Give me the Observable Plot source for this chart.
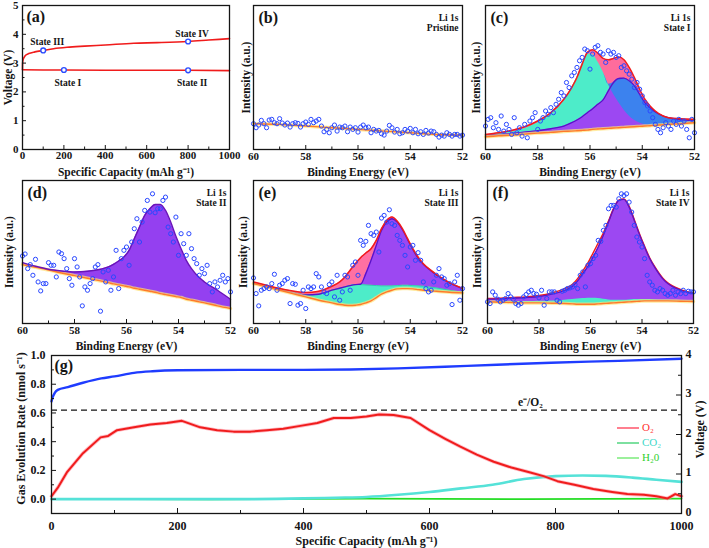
<!DOCTYPE html>
<html><head><meta charset="utf-8">
<script src="https://cdn.jsdelivr.net/npm/d3@7"></script>
<script src="https://cdn.jsdelivr.net/npm/@observablehq/plot@0.6"></script>
<style>
body{margin:0;background:#fff}
#fig{position:relative;width:709px;height:548px;overflow:hidden;background:#fff;font-family:'Liberation Serif','Times New Roman',serif}
.leg{position:absolute;left:617px;top:420px;font-size:11px;line-height:15px}
.leg div{height:15px;white-space:nowrap}
.leg i{display:inline-block;width:22px;height:2px;vertical-align:middle;margin-right:3px}
</style></head><body><div id="fig"></div>
<script>
// ---------- (a) voltage profile ----------
const capDis = [0, 100, 200, 400, 600, 800, 1000];
const vDis = [2.77, 2.76, 2.76, 2.75, 2.75, 2.75, 2.74];
const capChg = [0, 0.5, 3, 8, 15, 30, 60, 100, 150, 215, 300, 400, 537, 650, 800, 900, 1000];
const vChg = [2.77, 3.0, 3.12, 3.2, 3.27, 3.33, 3.39, 3.44, 3.5, 3.55, 3.59, 3.63, 3.69, 3.71, 3.75, 3.8, 3.85];
const stateNames = ["State I", "State II", "State III", "State IV"];
const stateCap = [200, 800, 100, 800];
const stateV = [2.76, 2.75, 3.44, 3.75];
const capTicksA = [0, 200, 400, 600, 800, 1000];
const voltTicksA = [0, 1, 2, 3, 4, 5];

// ---------- XPS Li 1s ----------
const beTicks = [60, 58, 56, 54, 52];
const beMinor = [59, 57, 55, 53];
const ptE = d3.range(81).map(i => +(60 - i * 0.1).toFixed(1));
const bPts = [77,65,73,87,77,65,88,90,80,77, 92,79,73,79,67,77,80,78,67,77, 82,75,90,80,85,90,70,53,60,50, 65,73,55,67,65,70,53,67,60,65, 52,67,73,65,67,50,60,55,57,47, 43,55,72,65,52,60,47,50,60,55, 63,50,60,47,53,45,57,49,55,53, 45,37,43,40,50,45,40,45,45,40, 43];
const cPts = [70,90,95,65,80,60,100,55,75,60, 45,95,50,65,40,75,35,85,95,110, 60,85,95,115,105,125,110,135,150,170, 160,200,185,220,230,245,265,275,300,295, 240,285,305,310,290,285,260,295,285,290, 275,280,245,250,235,225,210,185,200,180, 160,140,130,115,95,75,60,50,65,80, 70,60,85,75,90,70,85,60,35,90, 50];
const dPts = [203,209,165,177,145,193,125,98,120,120, 183,175,175,140,215,210,195,165,135,115, 195,170,140,53,110,100,120,135,170,177, 37,155,125,160,100,140,220,105,195,220, 230,175,245,285,315,245,305,340,370,335, 390,333,345,345,370,380,290,270,245,320, 205,270,240,205,270,225,195,180,145,165, 150,175,120,95,125,110,130,145,125,135, 95];
const ePts = [137,90,53,100,105,110,105,120,148,100, 115,120,130,135,60,120,118,55,60,100, 45,110,105,110,150,140,110,95,90,117, 125,80,145,70,95,145,140,100,175,185, 145,250,235,247,295,270,265,275,215,317, 325,305,342,300,295,265,250,235,205,170, 230,235,190,213,190,125,105,95,100,125, 145,165,140,135,115,120,57,125,145,70, 105];
const fPts = [65,60,95,85,73,65,70,75,90,80, 73,60,55,60,80,87,95,100,90,88, 77,100,55,75,95,95,95,70,65,97, 100,105,107,110,117,105,145,155,110,175, 180,195,205,250,247,280,295,345,355,355, 350,375,390,385,390,365,335,295,260,245, 230,195,145,125,115,100,95,105,100,90, 85,90,100,85,95,90,100,90,97,95, 95];

const bFitE = [60, 59, 58, 57, 56, 55, 54, 53, 52];
const bFit = [77, 75, 70, 65, 60, 55, 50, 45, 43];

const fitE = [60, 59.5, 59, 58.5, 58, 57.5, 57, 56.7, 56.5, 56.3, 56.1, 55.9, 55.7, 55.5, 55.3, 55.1, 54.9, 54.7, 54.5, 54.3, 54.1, 53.9, 53.7, 53.5, 53.2, 53, 52.5, 52];
const cBg = [38,41,43,46,49,51,54,55,56,57, 58,60,61,62,63,64,65,66,67,68, 69,70,71,72,74,75,77,80];
const cCyan = [42,47,52,62,80,105,145,185,215,255, 285,283,262,232,195,165,140,118,100,87, 79,74,73,73,74,75,77,80];
const cPurple = [42,45,48,52,56,62,70,80,88,98, 110,122,135,148,175,200,212,213,205,190, 165,140,125,112,100,95,89,85];
const cEnv = [45,50,57,68,85,110,150,185,215,255, 290,298,288,272,268,272,276,268,245,215, 180,150,130,115,100,95,92,90];
const dBg = [177,169,161,152,144,136,128,123,119,116, 113,110,106,103,100,97,94,90,87,84, 81,78,73,70,65,62,53,45];
const dPurple = [183,172,163,158,155,157,163,170,178,188, 200,220,255,290,325,345,358,358,340,305, 262,225,190,165,138,125,100,73];
const eBg = [120,110,100,90,80,70,62,57,55,54, 55,57,62,68,78,88,95,100,104,105, 105,104,102,100,98,97,94,92];
const eCyan = [121,112,102,93,86,88,100,106,110,114, 117,117,116,115,114,113,113,113,114,115, 115,114,113,112,109,107,100,94];
const ePurple = [121,112,102,93,86,88,100,106,110,114, 117,118,150,190,235,280,305,315,305,282, 252,222,196,178,158,146,122,105];
const eEnv = [125,115,105,98,93,97,112,125,140,160, 180,198,212,225,250,285,310,320,308,285, 255,225,200,180,160,148,123,106];
const fBg = [65,64,63,62,62,61,60,59,58,58, 58,58,59,60,61,62,63,64,65,66, 67,68,68,68,68,68,67,66];
const fCyan = [66,66,66,66,67,68,70,72,74,75, 76,76,75,73,71,70,70,70,71,72, 72,72,72,71,70,70,68,67];
const fPurple = [73,74,76,78,81,88,100,112,128,150, 172,200,230,265,305,345,370,373,350,310, 268,230,195,168,135,120,100,90];
const fEnv = [75,76,78,80,84,92,105,118,135,158, 182,212,242,272,308,346,371,374,352,312, 270,232,197,170,137,122,102,92];

// ---------- (g) DEMS ----------
const capO2 = [0,10,25,50,78,90,104,131,157,183, 207,236,263,289,316,342,368,395,422,448, 475,500,520,543,570,600,625,649,675,702, 730,760,781,803,830,860,890,914,940,960, 978,990,1000];
const o2Rate = [0.02,0.08,0.19,0.32,0.43,0.44,0.48,0.5,0.52,0.53, 0.545,0.5,0.48,0.47,0.47,0.48,0.49,0.51,0.53,0.565, 0.565,0.575,0.59,0.585,0.565,0.48,0.42,0.365,0.31,0.26, 0.22,0.185,0.16,0.125,0.1,0.07,0.05,0.035,0.03,0.02, 0.005,0.035,0.02];
const capCO2 = [0,300,400,450,500,550,600,650,700,750,800,843,880,922,960,1000];
const co2Rate = [0,0,0.005,0.01,0.015,0.03,0.05,0.075,0.1,0.14,0.16,0.165,0.162,0.15,0.135,0.12];
const capH2O = [0,250,500,750,1000];
const h2oRate = [0.002,-0.002,0.003,0.0,0.004];
const capV = [0,2,5,10,26,50,79,100,131,160,200,300,400,475,550,660,793,900,1000];
const voltG = [2.84,2.95,3.05,3.13,3.2,3.31,3.42,3.47,3.56,3.6,3.625,3.636,3.636,3.647,3.673,3.738,3.818,3.865,3.916];
const eO2Ratio = 0.62;
const rateTicks = [0, 0.2, 0.4, 0.6, 0.8, 1.0];
const rateMinor = [-0.1, 0.1, 0.3, 0.5, 0.7, 0.9];
const voltTicksG = [0, 1, 2, 3, 4];
const voltMinorG = [0.5, 1.5, 2.5, 3.5];
const capTicksG = [0, 200, 400, 600, 800, 1000];
const capMinorG = [100, 300, 500, 700, 900];
const legendNames = ["O\u2082", "CO\u2082", "H\u20820"];
const legendLine = ["#ff7f8f", "#7de0a0", "#9cf09c"];
const legendText = ["#ff3030", "#3fd8c8", "#2ed02e"];

// ---------- helpers ----------
const FONT = "'Liberation Serif','Times New Roman',serif";
const INK = "#151515";
const RED = "#f01c1c", BLUE = "#1f3cff", PT = "#2a48ff";
const fig = document.getElementById("fig");
function tbl(xs, cols) { return xs.map((x, i) => { const o = {x}; for (const k in cols) o[k] = cols[k][i]; return o; }); }
function place(svg, left, top) {
  svg.style.position = "absolute"; svg.style.left = left + "px"; svg.style.top = top + "px";
  svg.style.background = "transparent"; svg.style.overflow = "visible"; svg.style.maxWidth = "none";
  fig.appendChild(svg);
}
function baseStyle(fs) { return {fontFamily: FONT, fontWeight: "bold", fontSize: fs + "px", color: INK, background: "transparent", overflow: "visible"}; }
function inTicksX(vals, ydom, hpx, len) {
  const k = (ydom[1] - ydom[0]) / hpx * len;
  return Plot.ruleX(vals, {x: d => d, y1: ydom[0], y2: ydom[0] + k, stroke: INK, strokeWidth: 1});
}
function inTicksY(vals, xFrom, xTo, wpx, len, y = d => d) {
  const k = (xTo - xFrom) / wpx * len;
  return Plot.ruleY(vals, {y, x1: xFrom, x2: xFrom + k, stroke: INK, strokeWidth: 1});
}
const T = (s, o) => Plot.text([s], {text: d => d, lineAnchor: "middle", ...o});

function bgLine(data, key) {
  return [
    Plot.line(data, {x: "x", y: key, stroke: "#ffe27a", strokeWidth: 3.5, strokeOpacity: 0.7, curve: "monotone-x"}),
    Plot.line(data, {x: "x", y: key, stroke: "#ff7a2a", strokeWidth: 1.4, curve: "monotone-x"})
  ];
}

function xps(o) {
  const H = 180, ydom = [0, 430];
  const hpx = H - o.mt - o.mb;
  const marks = [
    ...o.marks,
    Plot.dot(tbl(ptE, {v: o.pts}), {x: "x", y: "v", r: 2.1, stroke: PT, strokeWidth: 1, fill: "none"}),
    Plot.frame({stroke: INK, strokeWidth: 1.3}),
    inTicksX(beTicks, ydom, hpx, 4), inTicksX(beMinor, ydom, hpx, 2.5),
    Plot.axisX({ticks: beTicks, tickSize: 0, tickPadding: 3, tickFormat: d => String(d), label: null, fontSize: 11}),
    T("Binding Energy (eV)", {frameAnchor: "bottom", dy: 23, fontSize: 11.5}),
    T("Intensity (a.u.)", {frameAnchor: "left", dx: o.ytdx, rotate: -90, textAnchor: "middle", fontSize: 11.5}),
    T(o.letter, {frameAnchor: "top-left", dx: 5, dy: 12, textAnchor: "start", fontSize: 16}),
    T("Li 1s", {frameAnchor: "top-right", dx: -4, dy: 12, textAnchor: "end", fontSize: 9.5}),
    T(o.state, {frameAnchor: "top-right", dx: -4, dy: 22, textAnchor: "end", fontSize: 9.5})
  ];
  const svg = Plot.plot({width: o.width, height: H, marginLeft: o.ml, marginRight: o.mr, marginTop: o.mt, marginBottom: o.mb,
    x: {domain: [60, 52]}, y: {domain: ydom, axis: null}, style: baseStyle(11), marks});
  place(svg, o.left, o.top);
}

// ---------- (a) ----------
{
  const states = stateNames.map((name, i) => ({name, cap: stateCap[i], v: stateV[i]}));
  const svg = Plot.plot({width: 235, height: 180, marginLeft: 22, marginRight: 6, marginTop: 5, marginBottom: 31,
    x: {domain: [0, 1000]}, y: {domain: [0, 5]}, style: baseStyle(11),
    marks: [
      Plot.line(tbl(capDis, {v: vDis}), {x: "x", y: "v", stroke: RED, strokeWidth: 1.6}),
      Plot.line(tbl(capChg, {v: vChg}), {x: "x", y: "v", stroke: RED, strokeWidth: 1.6, curve: "monotone-x"}),
      Plot.dot(states, {x: "cap", y: "v", r: 2.4, stroke: "#2a4cff", fill: "white", strokeWidth: 1.4}),
      Plot.text(states.filter(d => d.v > 3), {x: "cap", y: "v", text: "name", dx: 4, dy: -8, fontSize: 9.5}),
      Plot.text(states.filter(d => d.v <= 3), {x: "cap", y: "v", text: "name", dx: 4, dy: 12.5, fontSize: 9.5}),
      Plot.frame({stroke: INK, strokeWidth: 1.3}),
      inTicksX(capTicksA, [0, 5], 144, 4), inTicksX([100, 300, 500, 700, 900], [0, 5], 144, 2.5),
      inTicksY(voltTicksA, 0, 1000, 207, 4), inTicksY([0.5, 1.5, 2.5, 3.5, 4.5], 0, 1000, 207, 2.5),
      Plot.axisX({ticks: capTicksA, tickSize: 0, tickPadding: 2, tickFormat: d => String(d), label: null}),
      Plot.axisY({ticks: voltTicksA, tickSize: 0, tickPadding: 4, tickFormat: d => String(d), label: null}),
      T("Specific Capacity (mAh g\u207B\u00B9)", {frameAnchor: "bottom", dy: 23, fontSize: 11.5}),
      T("Voltage (V)", {frameAnchor: "left", dx: -14.5, rotate: -90, textAnchor: "middle", fontSize: 11.5}),
      T("(a)", {frameAnchor: "top-left", dx: 4, dy: 11, textAnchor: "start", fontSize: 16})
    ]});
  place(svg, 0, 0);
}

// ---------- (b) ----------
xps({left: 232, top: 0, width: 235, ml: 21, mr: 5, mt: 5, mb: 31, ytdx: -7, letter: "(b)", state: "Pristine", pts: bPts,
  marks: [...bgLine(tbl(bFitE, {v: bFit}), "v")]});

// ---------- (c) ----------
{
  const F = tbl(fitE, {bg: cBg, cy: cCyan, pu: cPurple, env: cEnv});
  xps({left: 470, top: 0, width: 239, ml: 15, mr: 15, mt: 5, mb: 31, ytdx: -9, letter: "(c)", state: "State I", pts: cPts,
    marks: [
      Plot.areaY(F, {x: "x", y1: "bg", y2: "env", fill: "#ff6c9c", curve: "monotone-x"}),
      Plot.areaY(F, {x: "x", y1: "bg", y2: "cy", fill: "#4decc9", curve: "monotone-x"}),
      Plot.areaY(F, {x: "x", y1: "bg", y2: "pu", fill: "#9c48f2", curve: "monotone-x"}),
      Plot.areaY(F, {x: "x", y1: "cy", y2: d => Math.max(d.cy, d.pu), fill: "#3c82ee", curve: "monotone-x"}),
      Plot.line(F, {x: "x", y: "pu", stroke: "#5a12c8", strokeWidth: 1.3, curve: "monotone-x"}),
      ...bgLine(F, "bg"),
      Plot.line(F, {x: "x", y: "env", stroke: RED, strokeWidth: 1.5, curve: "monotone-x"})
    ]});
}

// ---------- (d) ----------
{
  const F = tbl(fitE, {bg: dBg, pu: dPurple});
  xps({left: 0, top: 175, width: 235, ml: 22, mr: 5, mt: 5, mb: 32, ytdx: -13, letter: "(d)", state: "State II", pts: dPts,
    marks: [
      Plot.areaY(F, {x: "x", y1: "bg", y2: "pu", fill: "#9440f0", curve: "monotone-x"}),
      ...bgLine(F, "bg"),
      Plot.line(F, {x: "x", y: "pu", stroke: "#6a14b8", strokeWidth: 1.4, curve: "monotone-x"})
    ]});
}

// ---------- (e) ----------
{
  const F = tbl(fitE, {bg: eBg, cy: eCyan, pu: ePurple, env: eEnv});
  xps({left: 232, top: 175, width: 235, ml: 21, mr: 5, mt: 5, mb: 32, ytdx: -10, letter: "(e)", state: "State III", pts: ePts,
    marks: [
      Plot.areaY(F, {x: "x", y1: "bg", y2: "env", fill: "#ff70a2", curve: "monotone-x"}),
      Plot.areaY(F, {x: "x", y1: "bg", y2: "cy", fill: "#4decc9", curve: "monotone-x"}),
      Plot.areaY(F, {x: "x", y1: "cy", y2: "pu", fill: "#9c48f2", curve: "monotone-x"}),
      Plot.line(F, {x: "x", y: "cy", stroke: "#35c8b0", strokeWidth: 1, curve: "monotone-x"}),
      Plot.line(F, {x: "x", y: "pu", stroke: "#5a12c8", strokeWidth: 1.3, curve: "monotone-x"}),
      ...bgLine(F, "bg"),
      Plot.line(F, {x: "x", y: "env", stroke: RED, strokeWidth: 1.5, curve: "monotone-x"})
    ]});
}

// ---------- (f) ----------
{
  const F = tbl(fitE, {bg: fBg, cy: fCyan, pu: fPurple, env: fEnv});
  xps({left: 470, top: 175, width: 239, ml: 17, mr: 16, mt: 5, mb: 32, ytdx: -10, letter: "(f)", state: "State IV", pts: fPts,
    marks: [
      Plot.areaY(F, {x: "x", y1: "bg", y2: "pu", fill: "#9c48f2", curve: "monotone-x"}),
      Plot.areaY(F, {x: "x", y1: "bg", y2: "cy", fill: "#4decc9", curve: "monotone-x"}),
      ...bgLine(F, "bg"),
      Plot.line(F, {x: "x", y: "env", stroke: RED, strokeWidth: 1.5, curve: "monotone-x"}),
      Plot.line(F, {x: "x", y: "pu", stroke: "#5a12c8", strokeWidth: 1.3, curve: "monotone-x"})
    ]});
}

// ---------- (g) ----------
{
  const vToRate = v => v * 1.1 / 4 - 0.1;
  const svg = Plot.plot({width: 709, height: 203, marginLeft: 51, marginRight: 28, marginTop: 10, marginBottom: 35,
    x: {domain: [0, 1000]}, y: {domain: [-0.1, 1.0]}, style: baseStyle(12),
    marks: [
      Plot.ruleY([eO2Ratio], {stroke: INK, strokeWidth: 1.3, strokeDasharray: "6,4"}),
      Plot.text(["e\u207B/O\u2082"], {text: d => d, x: 760, y: eO2Ratio, dy: -8, fontSize: 11.5}),
      Plot.line(tbl(capH2O, {v: h2oRate}), {x: "x", y: "v", stroke: "#25dd25", strokeWidth: 1.8}),
      Plot.line(tbl(capCO2, {v: co2Rate}), {x: "x", y: "v", stroke: "#55e2d8", strokeWidth: 2.6, curve: "monotone-x"}),
      Plot.line(tbl(capO2, {v: o2Rate}), {x: "x", y: "v", stroke: "#ff8a9a", strokeWidth: 3.6, strokeOpacity: 0.6}),
      Plot.line(tbl(capO2, {v: o2Rate}), {x: "x", y: "v", stroke: RED, strokeWidth: 2}),
      Plot.line(tbl(capV, {v: voltG}), {x: "x", y: d => vToRate(d.v), stroke: BLUE, strokeWidth: 2.4, curve: "monotone-x"}),
      Plot.frame({stroke: INK, strokeWidth: 1.3}),
      inTicksX(capTicksG, [-0.1, 1.0], 158, 5), inTicksX(capMinorG, [-0.1, 1.0], 158, 3),
      inTicksY(rateTicks, 0, 1000, 630, 5), inTicksY(rateMinor, 0, 1000, 630, 3),
      inTicksY(voltTicksG, 1000, 0, 630, 5, vToRate), inTicksY(voltMinorG, 1000, 0, 630, 3, vToRate),
      Plot.axisX({ticks: capTicksG, tickSize: 0, tickPadding: 8, tickFormat: d => String(d), label: null}),
      Plot.axisY({ticks: rateTicks, tickSize: 0, tickPadding: 6, tickFormat: d3.format(".1f"), label: null}),
      Plot.axisY(voltTicksG, {anchor: "right", y: vToRate, tickSize: 0, tickPadding: 4, dy: -1.5, tickFormat: d => String(d), label: null}),
      T("Specific Capacity (mAh g\u207B\u00B9)", {frameAnchor: "bottom", dy: 28, fontSize: 12}),
      T("Gas Evolution Rate (nmol s\u207B\u00B9)", {frameAnchor: "left", dx: -30, dy: -6, rotate: -90, textAnchor: "middle", fontSize: 12}),
      T("Voltage (V)", {frameAnchor: "right", dx: 19, dy: -5, rotate: -90, textAnchor: "middle", fontSize: 12}),
      T("(g)", {frameAnchor: "top-left", dx: 3, dy: 10, textAnchor: "start", fontSize: 16})
    ]});
  place(svg, 0, 345);
}

// legend for (g)
{
  const leg = document.createElement("div");
  leg.className = "leg";
  legendNames.forEach((n, i) => {
    const row = document.createElement("div");
    const sw = document.createElement("i");
    sw.style.background = legendLine[i];
    const t = document.createElement("span");
    t.textContent = n; t.style.color = legendText[i];
    row.appendChild(sw); row.appendChild(t); leg.appendChild(row);
  });
  fig.appendChild(leg);
}
</script></body></html>
